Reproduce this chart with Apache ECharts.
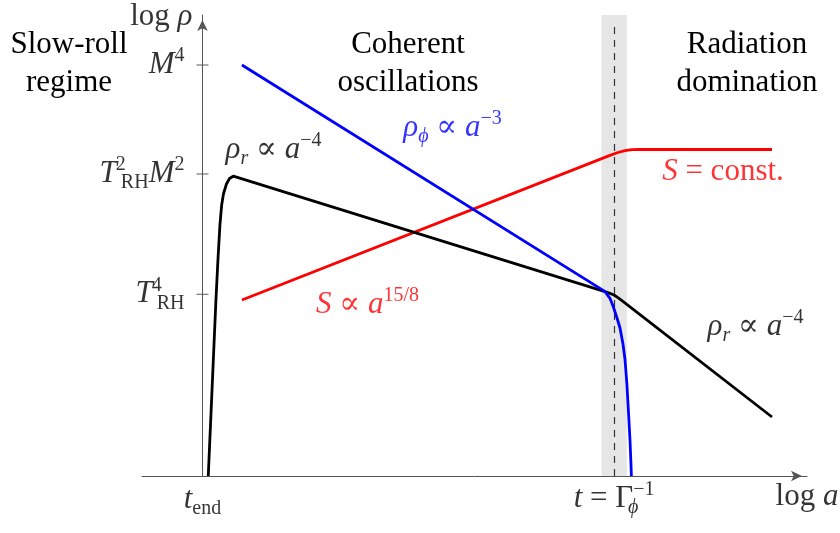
<!DOCTYPE html>
<html>
<head>
<meta charset="utf-8">
<script src="https://cdn.jsdelivr.net/npm/echarts@6/dist/echarts.min.js"></script>
<style>
  html, body { margin: 0; padding: 0; background: #fff; }
  #chart { width: 840px; height: 533px; }
</style>
</head>
<body>
<div id="chart"></div>
<script>
// Energy densities during reheating, in arbitrary logarithmic units:
// x = log a, y = log rho.

// inflaton energy density rho_phi ~ a^-3, then exponential decay after t = 1/Gamma
const rhoPhi = [
  [0.653, 8.915], [6.576, 4.069], [6.659, 3.998], [6.741, 3.855], [6.796, 3.672],
  [6.857, 3.427], [6.907, 3.210], [6.956, 2.863], [6.989, 2.538], [7.022, 1.974],
  [7.047, 1.388], [7.072, 0.781], [7.089, 0.239], [7.095, 0]
];

// radiation energy density rho_r: quick rise, slow fall, then ~ a^-4
const rhoR = [
  [0.096, 0], [0.151, 1.649], [0.223, 3.818], [0.256, 4.685], [0.289, 5.445],
  [0.318, 5.879], [0.347, 6.117], [0.397, 6.334], [0.447, 6.453], [0.510, 6.503],
  [6.659, 3.998], [6.741, 3.961], [6.807, 3.926], [6.873, 3.868], [6.939, 3.803],
  [9.421, 1.280]
];

// entropy S ~ a^(15/8), then constant
const entropy = [
  [0.653, 3.818], [6.741, 6.955], [6.873, 7.017], [6.989, 7.059], [7.105, 7.079],
  [7.237, 7.082], [9.421, 7.082]
];

// decay epoch t = 1/Gamma_phi and the shaded transition window
const decayTime = 6.81;
const decayWindow = [6.60, 7.02];

// marked levels on the log rho axis
const yTickValues = [8.915, 6.551, 3.941];
const yTickLabels = ['{i|M}{sup|4}', '{i|T}{supz|2}{sub|RH}{i|M}{sup|2}', '{i|T}{supz|4}{sub|RH}'];

// era titles
const eraTitles = ['Slow-roll\nregime', 'Coherent\noscillations', 'Radiation\ndomination'];

const FONT = '"Liberation Serif", "DejaVu Serif", serif';
const SZ = 31, SS = 20;

function rich(color) {
  return {
    n:    { fontFamily: FONT, fontSize: SZ, color: color, lineHeight: 38 },
    i:    { fontFamily: FONT, fontSize: SZ, fontStyle: 'italic', color: color, lineHeight: 38 },
    sup:  { fontFamily: FONT, fontSize: SS, color: color, verticalAlign: 'top', lineHeight: SS + 2 },
    supz: { fontFamily: FONT, fontSize: SS, color: color, verticalAlign: 'top', lineHeight: SS + 2, width: 0, align: 'left', padding: [0, 0, 0, 4] },
    sub:  { fontFamily: FONT, fontSize: SS, color: color, verticalAlign: 'bottom', lineHeight: SS + 2 },
    subI: { fontFamily: FONT, fontSize: SS, fontStyle: 'italic', color: color, verticalAlign: 'bottom', lineHeight: SS + 2 },
    subz: { fontFamily: FONT, fontSize: SS, fontStyle: 'italic', color: color, verticalAlign: 'bottom', lineHeight: SS + 2, width: 0, align: 'left' }
  };
}

// curve annotations anchored in data coordinates (text centre)
const notes = [
  { value: [1.175, 7.072], text: '{i|ρ}{subI|r}{n| ∝ }{i|a}{sup|−4}', color: '#000' },
  { value: [4.136, 7.549], text: '{i|ρ}{subI|ϕ}{n| ∝ }{i|a}{sup|−3}', color: '#0000ff' },
  { value: [8.610, 6.594], text: '{i|S}{n| = const.}', color: '#ff0000' },
  { value: [2.730, 3.709], text: '{i|S}{n| ∝ }{i|a}{sup|15/8}', color: '#ff0000' },
  { value: [9.148, 3.230], text: '{i|ρ}{subI|r}{n| ∝ }{i|a}{sup|−4}', color: '#000' },
  { value: [0.0, -0.52], text: '{i|t}{sub|end}', color: '#000' },
  { value: [decayTime, -0.50], text: '{i|t}{n| = Γ}{subz|ϕ}{sup|−1}', color: '#000' },
  { value: [10.0, -0.45], text: '{n|log }{i|a}', color: '#000' }
];

const AXIS = '#555';

const chart = echarts.init(document.getElementById('chart'), null, { renderer: 'canvas' });

chart.setOption({
  animation: false,
  backgroundColor: '#fff',
  grid: { left: 142, right: 33, top: 15, bottom: 57 },
  xAxis: {
    type: 'value', min: -1, max: 10,
    splitLine: { show: false }, axisTick: { show: false }, axisLabel: { show: false },
    axisLine: {
      show: true, onZero: true,
      lineStyle: { color: AXIS, width: 1 },
      symbol: ['none', 'arrow'], symbolSize: [8, 11], symbolOffset: [0, -5]
    }
  },
  yAxis: {
    type: 'value', min: 0, max: 10,
    splitLine: { show: false }, axisTick: { show: false }, axisLabel: { show: false },
    axisLine: {
      show: true, onZero: true,
      lineStyle: { color: AXIS, width: 1 },
      symbol: ['none', 'arrow'], symbolSize: [8, 11], symbolOffset: [0, -5]
    }
  },
  graphic: [
    { x: 69,  y: 64, text: eraTitles[0] },
    { x: 408, y: 64, text: eraTitles[1] },
    { x: 747, y: 64, text: eraTitles[2] }
  ].map(t => ({
    type: 'text', x: t.x, y: t.y, z: 10,
    style: {
      text: t.text, fontFamily: FONT, fontSize: SZ, lineHeight: 38,
      align: 'center', verticalAlign: 'middle', fill: '#000'
    }
  })),
  series: [
    {
      // shaded window and dashed marker at t = 1/Gamma_phi
      type: 'line', data: [], silent: true,
      markArea: {
        silent: true,
        itemStyle: { color: '#e6e6e6' },
        data: [[{ xAxis: decayWindow[0], yAxis: 0 }, { xAxis: decayWindow[1], yAxis: 10 }]]
      },
      markLine: {
        silent: true, symbol: 'none', label: { show: false },
        lineStyle: { color: '#333', width: 1.2, type: [7, 6] },
        data: [[{ coord: [decayTime, 0] }, { coord: [decayTime, 9.85] }]]
      }
    },
    {
      name: 'S', type: 'line', data: entropy, showSymbol: false, smooth: false, z: 3,
      lineStyle: { color: '#ff0000', width: 2.8, join: 'round' }
    },
    {
      name: 'rho_r', type: 'line', data: rhoR, showSymbol: false, smooth: false, z: 4,
      lineStyle: { color: '#000', width: 2.8, join: 'round' }
    },
    {
      name: 'rho_phi', type: 'line', data: rhoPhi, showSymbol: false, smooth: false, z: 5,
      lineStyle: { color: '#0000ff', width: 2.8, join: 'round' }
    },
    {
      // tick marks crossing the log rho axis, with their labels
      type: 'scatter', z: 6, silent: true, clip: false,
      symbol: 'rect', symbolSize: [12, 1.2],
      itemStyle: { color: AXIS },
      data: yTickValues.map((v, k) => ({ value: [0, v], label: { formatter: yTickLabels[k] } })),
      label: { show: true, position: 'left', distance: 12, rich: rich('#000') }
    },
    {
      // axis name for log rho
      type: 'scatter', z: 6, silent: true, clip: false, symbolSize: 0,
      data: [[0, 9.96]],
      label: { show: true, position: 'left', distance: 10, formatter: '{n|log }{i|ρ}', rich: rich('#000') }
    },
    {
      type: 'scatter', z: 7, silent: true, clip: false, symbolSize: 0,
      data: notes.map(d => ({
        value: d.value,
        label: { formatter: d.text, rich: rich(d.color) }
      })),
      label: { show: true, position: 'inside', align: 'center', verticalAlign: 'middle' }
    }
  ]
});
</script>
</body>
</html>
